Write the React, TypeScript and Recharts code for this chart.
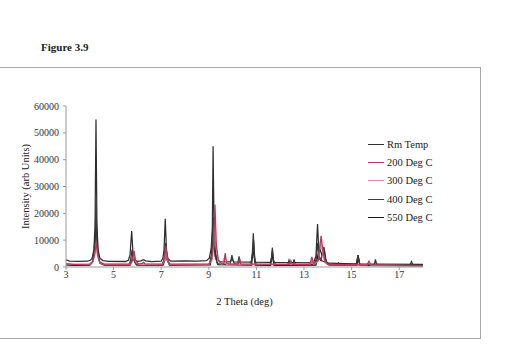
import React from 'react'
import { LineChart, Line, XAxis, YAxis } from 'recharts'

// 2-theta (deg) vs intensity for each heat treatment
const rmTemp: [number, number][] = [
  [3.0, 2700], [3.15, 2200], [3.5, 2050], [3.9, 2150], [4.02, 2500], [4.1, 3300], [4.17, 6500],
  [4.22, 15000], [4.26, 55000], [4.3, 15000], [4.35, 6500], [4.42, 3300], [4.55, 2400], [4.8, 2100],
  [5.5, 2050], [5.62, 2500], [5.69, 4500], [5.76, 13400], [5.82, 4500], [5.9, 2500], [6.0, 2100],
  [6.15, 2300], [6.25, 2700], [6.35, 2300], [6.6, 2000], [7.0, 2150], [7.07, 3200], [7.12, 6500],
  [7.17, 18000], [7.22, 6500], [7.28, 3200], [7.4, 2200], [8.0, 2300], [8.5, 2200], [8.9, 2350],
  [9.02, 3300], [9.1, 7000], [9.15, 15000], [9.18, 45000], [9.22, 15000], [9.27, 6000], [9.35, 3000],
  [9.45, 2000], [9.9, 1900], [9.97, 3000], [10.05, 1900], [10.78, 1800], [10.86, 6000], [10.94, 1800],
  [11.6, 1700], [11.66, 4500], [11.72, 1700], [13.4, 1500], [13.5, 4000], [13.57, 16000], [13.63, 4500],
  [13.7, 2500], [14.0, 1400], [15.2, 1200], [15.27, 4400], [15.34, 1200], [16.0, 1100], [18.0, 1000],
]

const deg200: [number, number][] = [
  [3.0, 1300], [3.3, 1000], [4.0, 1100], [4.12, 2000], [4.2, 4500], [4.27, 9000], [4.33, 4500],
  [4.42, 1800], [4.6, 1100], [5.7, 1100], [5.79, 2500], [5.86, 6000], [5.92, 2500], [6.05, 1100],
  [6.2, 1300], [6.26, 1700], [6.32, 1200], [7.05, 1100], [7.14, 3000], [7.2, 7800], [7.26, 3000],
  [7.36, 1100], [9.0, 1100], [9.13, 3000], [9.21, 10000], [9.26, 23300], [9.31, 9000], [9.4, 2500],
  [9.55, 1200], [9.64, 1600], [9.69, 5200], [9.74, 1600], [9.85, 1100], [10.25, 1100], [10.3, 3000],
  [10.35, 1100], [12.4, 1000], [12.45, 2400], [12.5, 1000], [13.25, 1000], [13.33, 3800], [13.4, 1200],
  [13.6, 2500], [13.67, 8000], [13.72, 11600], [13.78, 7000], [13.88, 2000], [14.0, 1000], [15.65, 800],
  [15.73, 2200], [15.8, 800], [18.0, 500],
]

const deg300: [number, number][] = [
  [3.0, 1200], [3.3, 950], [4.0, 1000], [4.12, 1800], [4.2, 4000], [4.27, 8000], [4.33, 4000],
  [4.42, 1700], [4.6, 1000], [5.7, 1000], [5.79, 2000], [5.86, 5000], [5.92, 2000], [6.05, 1000],
  [7.05, 1000], [7.14, 2500], [7.2, 6500], [7.26, 2500], [7.36, 1000], [9.0, 1000], [9.13, 2500],
  [9.21, 8000], [9.26, 19000], [9.31, 7000], [9.4, 2000], [9.55, 1000], [9.69, 4200], [9.75, 1000],
  [13.25, 950], [13.33, 3000], [13.4, 1000], [13.6, 2200], [13.7, 9500], [13.78, 5500], [13.88, 1800],
  [14.0, 900], [15.65, 750], [15.73, 1800], [15.8, 700], [18.0, 450],
]

const deg400: [number, number][] = [
  [3.0, 1000], [3.3, 800], [4.0, 900], [4.1, 1800], [4.17, 4500], [4.22, 10000], [4.26, 24000],
  [4.3, 10000], [4.35, 4500], [4.42, 1800], [4.6, 900], [5.65, 900], [5.71, 2500], [5.78, 6500],
  [5.85, 2500], [5.95, 900], [6.2, 1200], [6.3, 900], [7.05, 900], [7.12, 3000], [7.18, 9000],
  [7.24, 3000], [7.35, 900], [9.02, 1000], [9.11, 4500], [9.19, 18600], [9.26, 4500], [9.36, 1300],
  [9.9, 1000], [9.97, 4400], [10.05, 1500], [10.15, 1000], [10.22, 1200], [10.27, 4000], [10.33, 1000],
  [10.76, 900], [10.82, 3500], [10.87, 12600], [10.92, 3500], [10.99, 900], [11.58, 900], [11.63, 3000],
  [11.67, 7200], [11.72, 2500], [11.8, 900], [12.32, 900], [12.37, 2600], [12.43, 900], [12.53, 900],
  [12.58, 2800], [12.64, 900], [13.45, 900], [13.52, 3500], [13.58, 9000], [13.64, 3000], [13.72, 2500],
  [13.8, 6500], [13.84, 7500], [13.9, 3000], [14.0, 1000], [14.4, 900], [14.45, 1500], [14.5, 800],
  [15.2, 800], [15.27, 4400], [15.34, 800], [15.95, 800], [16.0, 2800], [16.06, 750], [17.45, 700],
  [17.52, 2000], [17.58, 650], [18.0, 600],
]

const deg550: [number, number][] = [
  [3.0, 800], [3.3, 600], [4.0, 700], [4.12, 1800], [4.2, 6000], [4.27, 18000], [4.33, 5000],
  [4.42, 1500], [4.6, 700], [5.7, 700], [5.77, 2500], [5.82, 5500], [5.88, 2000], [5.98, 700],
  [7.08, 700], [7.15, 2500], [7.2, 7000], [7.25, 2500], [7.35, 700], [9.06, 800], [9.14, 4500],
  [9.21, 15000], [9.27, 4000], [9.38, 900], [10.8, 700], [10.88, 10000], [10.95, 700], [11.6, 650],
  [11.67, 6000], [11.74, 650], [13.5, 700], [13.6, 5000], [13.66, 7000], [13.75, 4500], [13.86, 6000],
  [13.93, 2000], [14.05, 700], [15.22, 600], [15.28, 3500], [15.35, 600], [18.0, 450],
]

const xTicks = [3, 5, 7, 9, 11, 13, 15, 17]
const yTicks = [0, 10000, 20000, 30000, 40000, 50000, 60000]

const series = [
  { name: 'Rm Temp', data: rmTemp, color: '#2e2e2e' },
  { name: '200 Deg C', data: deg200, color: '#b8385a' },
  { name: '300 Deg C', data: deg300, color: '#d98c9f' },
  { name: '400 Deg C', data: deg400, color: '#3a3a3a' },
  { name: '550 Deg C', data: deg550, color: '#1a1a1a' },
]

// draw order: dark patterns first, heated (red/pink) on top
const drawOrder = ['Rm Temp', '550 Deg C', '400 Deg C', '300 Deg C', '200 Deg C']

const toPoints = (d: [number, number][]) => d.map(([x, y]) => ({ x, y }))

const font = '"Liberation Serif", "Times New Roman", serif'
const tickStyle = { fontSize: 10, fill: '#333', fontFamily: font }

function LegendBox() {
  return (
    <div style={{ position: 'absolute', left: 368, top: 135, fontFamily: font, fontSize: 10.5, color: '#222' }}>
      {series.map((s) => (
        <div key={s.name} style={{ display: 'flex', alignItems: 'center', height: 18.3 }}>
          <span style={{ display: 'inline-block', width: 16, height: 1, background: s.color, marginRight: 3 }} />
          <span>{s.name}</span>
        </div>
      ))}
    </div>
  )
}

export default function App() {
  return (
    <div style={{ position: 'absolute', left: 0, top: 0, width: 518, height: 347, background: '#fff' }}>
      <div
        style={{
          position: 'absolute', left: 41, top: 40, fontFamily: font, fontWeight: 'bold',
          fontSize: 11, color: '#222', lineHeight: '14px',
        }}
      >
        Figure 3.9
      </div>
      {/* page frame */}
      <div style={{ position: 'absolute', left: 0, top: 67, width: 480, height: 1, background: '#a8a8a8' }} />
      <div style={{ position: 'absolute', left: 480, top: 67, width: 1, height: 272, background: '#a8a8a8' }} />
      <div style={{ position: 'absolute', left: 0, top: 338, width: 480, height: 1, background: '#a8a8a8' }} />

      <LineChart
        width={518}
        height={347}
        margin={{ top: 106, right: 95, bottom: 40, left: 16 }}
        style={{ position: 'absolute', left: 0, top: 0, fontFamily: font }}
      >
        <XAxis
          type="number"
          dataKey="x"
          domain={[3, 18]}
          ticks={xTicks}
          allowDataOverflow
          height={40}
          tickSize={3}
          tickMargin={1}
          stroke="#999"
          tick={tickStyle}
          label={{ value: '2 Theta (deg)', position: 'insideBottom', offset: 2, style: { fontSize: 10.5, fill: '#222', fontFamily: font } }}
        />
        <YAxis
          type="number"
          domain={[0, 60000]}
          ticks={yTicks}
          width={50}
          tickSize={3}
          tickMargin={4}
          stroke="#999"
          tick={tickStyle}
          label={{
            value: 'Intensity (arb Units)', angle: -90, position: 'insideLeft', offset: 9,
            style: { textAnchor: 'middle', fontSize: 10.5, fill: '#222', fontFamily: font },
          }}
        />
        {drawOrder.map((name) => {
          const s = series.find((v) => v.name === name)!
          return (
            <Line
              key={s.name}
              name={s.name}
              data={toPoints(s.data)}
              dataKey="y"
              type="linear"
              stroke={s.color}
              strokeWidth={1.25}
              dot={false}
              activeDot={false}
              isAnimationActive={false}
            />
          )
        })}
      </LineChart>
      <LegendBox />
    </div>
  )
}
